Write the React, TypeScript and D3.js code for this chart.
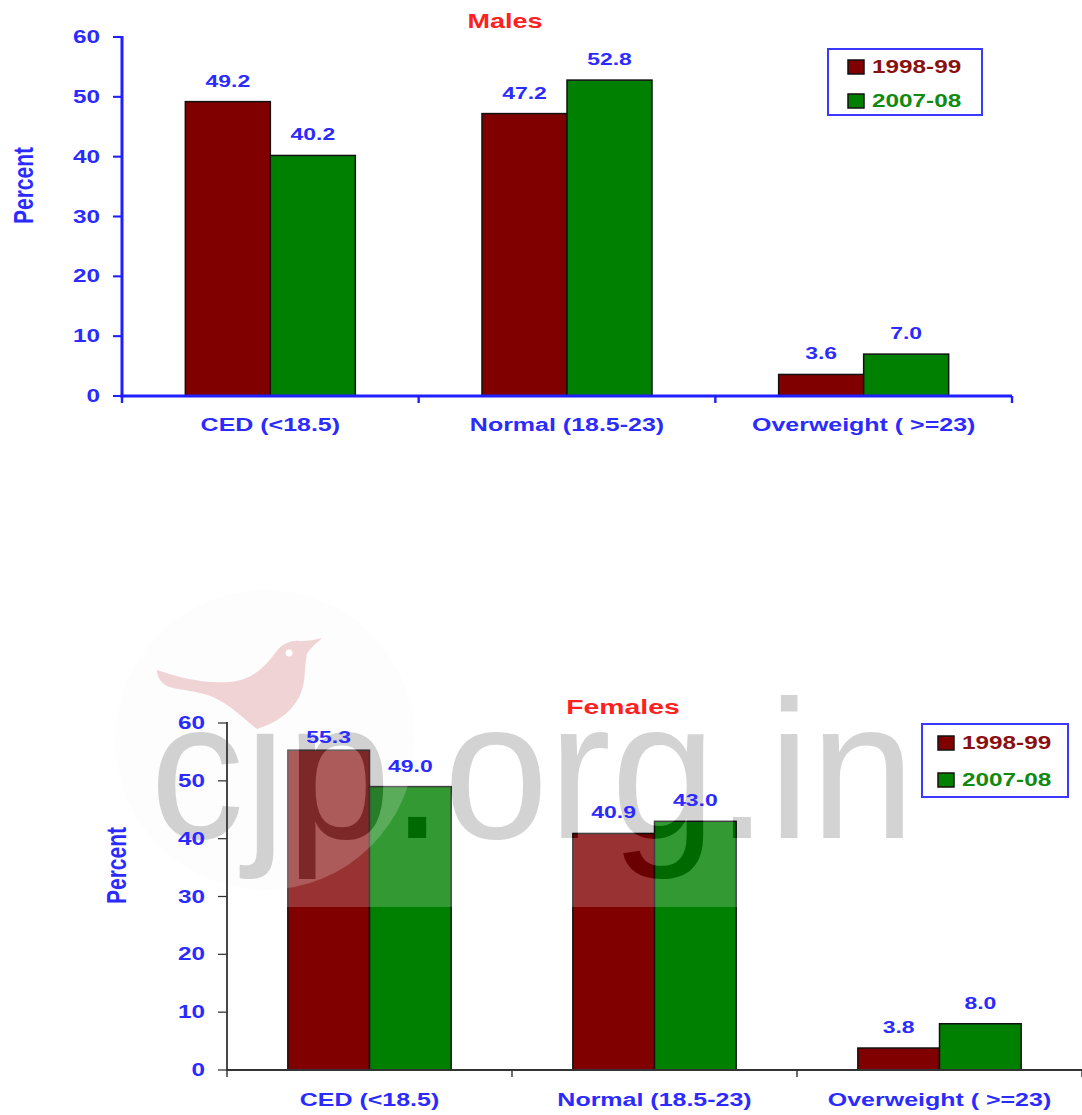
import React from "react";
import * as d3 from "d3";

const categories = ["CED (<18.5)", "Normal (18.5-23)", "Overweight ( >=23)"];
const seriesNames = ["1998-99", "2007-08"];
const males1998 = [49.2, 47.2, 3.6];
const males2007 = [40.2, 52.8, 7.0];
const females1998 = [55.3, 40.9, 3.8];
const females2007 = [49.0, 43.0, 8.0];
const yTicks = [0, 10, 20, 30, 40, 50, 60];
const seriesColors = ["#800000", "#008000"];
const legendTextColors = ["#8a1010", "#108a10"];

const SX = 1.35;
const FONT = "'Liberation Sans', Arial, Helvetica, sans-serif";
const BLUE = "#2b2bff";

function T(props: any) {
  const { x, y, anchor = "start", size = 17, fill = BLUE, rotate = false, children, weight = "bold" } = props;
  return (
    <text
      transform={`translate(${x},${y}) scale(${SX},1)${rotate ? " rotate(-90)" : ""}`}
      textAnchor={anchor}
      fontSize={size}
      fontWeight={weight}
      fontFamily={FONT}
      fill={fill}
    >
      {children}
    </text>
  );
}

function scales(cfg: any) {
  const x = d3.scaleBand<string>().domain(categories).range([cfg.x0, cfg.x1]).padding(0);
  const inner = d3
    .scaleBand<string>()
    .domain(seriesNames)
    .range([0, x.bandwidth()])
    .paddingInner(0)
    .paddingOuter(0.745);
  const y = d3.scaleLinear().domain([0, 60]).range([cfg.yBottom, cfg.yTop]);
  return { x, inner, y };
}

function Bars(props: any) {
  const { cfg, s1, s2 } = props;
  const { x, inner, y } = scales(cfg);
  const series = [s1, s2];
  return (
    <g>
      {series.map((vals: number[], si: number) =>
        categories.map((c, ci) => {
          const bx = (x(c) as number) + (inner(seriesNames[si]) as number);
          const by = y(vals[ci]);
          return (
            <rect
              key={`b${si}-${ci}`}
              x={bx}
              y={by}
              width={inner.bandwidth()}
              height={y(0) - by}
              fill={seriesColors[si]}
              stroke="#111"
              strokeWidth={1.5}
            />
          );
        })
      )}
    </g>
  );
}

function Annotations(props: any) {
  const { cfg, s1, s2 } = props;
  const { x, inner, y } = scales(cfg);
  const series = [s1, s2];
  const bounds = [cfg.x0, ...categories.map((c) => (x(c) as number) + x.bandwidth())];
  return (
    <g>
      {series.map((vals: number[], si: number) =>
        categories.map((c, ci) => {
          const cx = (x(c) as number) + (inner(seriesNames[si]) as number) + inner.bandwidth() / 2;
          const ly = Math.max(y(vals[ci]) - 15, cfg.yTop + 20);
          return (
            <T key={`v${si}-${ci}`} x={cx} y={ly} anchor="middle" size={17}>
              {vals[ci].toFixed(1)}
            </T>
          );
        })
      )}
      <line x1={cfg.x0} x2={cfg.x0} y1={y(60) - 1} y2={y(0) + cfg.axisW / 2} stroke={cfg.axisColor} strokeWidth={cfg.axisW} />
      {yTicks.map((t) => (
        <g key={`t${t}`}>
          <line x1={cfg.x0 - 9} x2={cfg.x0} y1={y(t)} y2={y(t)} stroke={cfg.axisColor} strokeWidth={cfg.axisW * 0.7} />
          <T x={cfg.tickLabelX} y={y(t) + 6} anchor="end" size={18}>
            {t}
          </T>
        </g>
      ))}
      <line x1={cfg.x0 - cfg.axisW / 2} x2={cfg.x1} y1={y(0)} y2={y(0)} stroke={cfg.axisColor} strokeWidth={cfg.axisW} />
      {bounds.map((b, i) => (
        <line key={`xt${i}`} x1={b} x2={b} y1={y(0)} y2={y(0) + 7} stroke={cfg.axisColor} strokeWidth={cfg.axisW * 0.8} />
      ))}
      {categories.map((c) => (
        <T key={`c${c}`} x={(x(c) as number) + x.bandwidth() / 2} y={cfg.catY} anchor="middle" size={18.5}>
          {c}
        </T>
      ))}
      <T x={cfg.pctX} y={(cfg.yTop + cfg.yBottom) / 2 - 31} anchor="middle" size={21} rotate>
        Percent
      </T>
      <T x={cfg.titleX} y={cfg.titleY} anchor="middle" size={cfg.titleSize} fill="#ff2020">
        {cfg.title}
      </T>
      <rect x={cfg.lx} y={cfg.ly} width={cfg.lw} height={cfg.lh} fill="white" stroke="#3a3aff" strokeWidth={2} />
      {seriesNames.map((s, i) => (
        <g key={`l${s}`}>
          <rect
            x={cfg.lx + cfg.sqOff}
            y={cfg.ly + cfg.row0 + i * cfg.rowGap - 13}
            width={16}
            height={14}
            fill={seriesColors[i]}
            stroke="#111"
            strokeWidth={1.5}
          />
          <T x={cfg.lx + cfg.textOff} y={cfg.ly + cfg.row0 + i * cfg.rowGap} size={18} fill={legendTextColors[i]}>
            {s}
          </T>
        </g>
      ))}
    </g>
  );
}

const topCfg = {
  x0: 122, x1: 1012, yTop: 37, yBottom: 396, axisColor: "#1f1fff", axisW: 3,
  tickLabelX: 100, catY: 431, pctX: 33, title: "Males", titleX: 505, titleY: 28, titleSize: 20,
  lx: 828, ly: 49, lw: 154, lh: 66, sqOff: 20, textOff: 44, row0: 24, rowGap: 34,
};
const botCfg = {
  x0: 227, x1: 1082, yTop: 723, yBottom: 1070, axisColor: "#333", axisW: 1.8,
  tickLabelX: 205, catY: 1106, pctX: 126, title: "Females", titleX: 623, titleY: 714, titleSize: 21,
  lx: 922, ly: 724, lw: 146, lh: 73, sqOff: 16, textOff: 40, row0: 25, rowGap: 37,
};

function Watermark() {
  const wm = "cjp.org.in";
  return (
    <g>
      <defs>
        <mask id="wmHole">
          <rect x={0} y={0} width={1082} height={1115} fill="white" />
          <text x={150} y={838} fontSize={197} fontFamily={FONT} textLength={765} lengthAdjust="spacingAndGlyphs" fill="black">
            {wm}
          </text>
        </mask>
      </defs>
      <circle cx={265} cy={740} r={150} fill="#f4f4f4" opacity={0.2} />
      <rect x={120} y={615} width={840} height={292} fill="white" opacity={0.2} mask="url(#wmHole)" />
      <text x={150} y={838} fontSize={197} fontFamily={FONT} textLength={765} lengthAdjust="spacingAndGlyphs" fill="#000" opacity={0.17}>
        {wm}
      </text>
      <path
        d="M157,670 C175,676 200,684 230,682 C252,680 264,668 276,652 C282,644 290,640 300,641 C308,641 315,640 322,638 C316,644 310,648 307,654 C304,666 306,678 302,690 C296,708 280,722 257,729 C245,720 232,706 213,697 C196,690 176,690 167,686 C160,682 157,676 157,670 Z"
        fill="#f0d3d5"
      />
      <circle cx={289} cy={653} r={3.5} fill="white" />
    </g>
  );
}

export default function App() {
  return (
    <svg
      width={1082}
      height={1115}
      viewBox="0 0 1082 1115"
      style={{ position: "absolute", left: 0, top: 0, background: "white" }}
    >
      <rect x={0} y={0} width={1082} height={1115} fill="white" />
      <Bars cfg={topCfg} s1={males1998} s2={males2007} />
      <Bars cfg={botCfg} s1={females1998} s2={females2007} />
      <Watermark />
      <Annotations cfg={topCfg} s1={males1998} s2={males2007} />
      <Annotations cfg={botCfg} s1={females1998} s2={females2007} />
    </svg>
  );
}
